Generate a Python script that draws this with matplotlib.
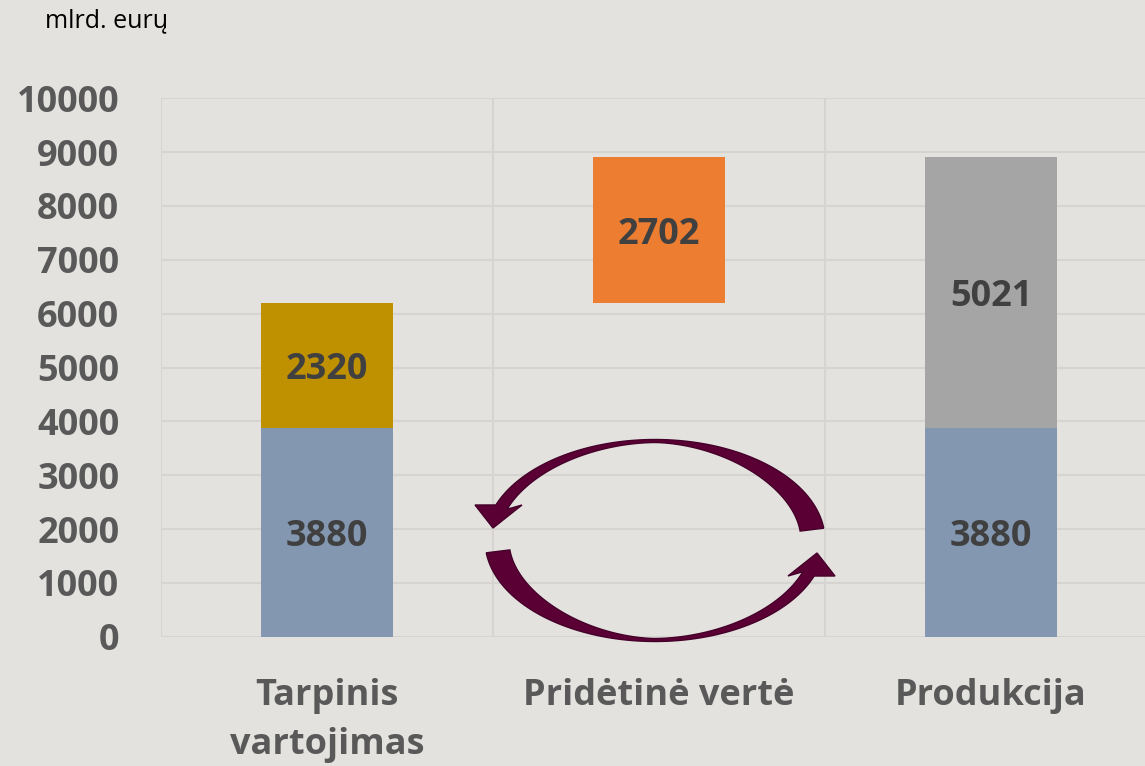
import matplotlib.pyplot as plt
import numpy as np
from matplotlib.patches import Polygon

plt.rcParams['font.family'] = ['Open Sans', 'DejaVu Sans']

# Data
categories = ['Tarpinis\nvartojimas', 'Pridėtinė vertė', 'Produkcija']
base_values = [3880, 0, 3880]
upper_values = [2320, 2702, 5021]
base_color = '#8497B0'
upper_colors = ['#BF9000', '#ED7D31', '#A5A5A5']
y_ticks = [0, 1000, 2000, 3000, 4000, 5000, 6000, 7000, 8000, 9000, 10000]
unit_label = 'mlrd. eurų'

# value added sits on top of intermediate consumption
upper_bottoms = [base_values[0], base_values[0] + upper_values[0], base_values[2]]

W, H = 1145, 766
bg = '#E3E2DE'
fig = plt.figure(figsize=(W / 100, H / 100), dpi=100, facecolor=bg)
ax = fig.add_axes([161 / W, 1 - 636.7 / H, 996 / W, (636.7 - 98.3) / H])
ax.set_facecolor(bg)

x = np.arange(len(categories))
bw = 0.4
ax.bar(x, base_values, width=bw, color=base_color, zorder=3)
ax.bar(x, upper_values, width=bw, bottom=upper_bottoms, color=upper_colors, zorder=3)

lab_kw = dict(ha='center', va='center_baseline', fontsize=26, fontweight='bold',
              color='#404040', zorder=4)
for i in range(len(categories)):
    if base_values[i]:
        ax.text(x[i], base_values[i] / 2, str(base_values[i]), **lab_kw)
    ax.text(x[i], upper_bottoms[i] + upper_values[i] / 2, str(upper_values[i]), **lab_kw)

ax.set_xlim(-0.5, 2.5)
ax.set_ylim(0, 10000)
ax.set_yticks(y_ticks)
ax.set_xticks(x)
ax.set_xticklabels(categories, linespacing=1.45)
ax.set_xticks([-0.5, 0.5, 1.5, 2.5], minor=True)
ax.tick_params(axis='y', length=0, pad=30, labelsize=26, labelcolor='#595959')
ax.tick_params(axis='x', which='both', length=0, pad=30, labelsize=26, labelcolor='#595959')
for t in ax.get_yticklabels() + ax.get_xticklabels():
    t.set_fontweight('bold')
ax.grid(axis='y', which='major', color='#D5D4D0', lw=1.5, zorder=0)
ax.grid(axis='x', which='minor', color='#D5D4D0', lw=1.5, zorder=0)
ax.grid(axis='x', which='major', visible=False)
for s in ax.spines.values():
    s.set_visible(False)

fig.text(45 / W, 1 - 21 / H, unit_label, fontsize=18, color='black', va='center', ha='left')

# circular flow arrows (decoration, in figure pixels)
cx, cy, a, b = 655, 540.5, 170, 101
th = np.radians(np.linspace(7, 159.4, 120))
t = 3 + 21 * np.clip(np.cos(th), 0, None) ** 1.5 + 10 * np.clip(-np.cos(th), 0, None) ** 1.5
outer = np.column_stack([cx + a * np.cos(th), cy - b * np.sin(th)])
inner = np.column_stack([cx + (a - t) * np.cos(th), cy - (b - t) * np.sin(th)])
head = np.array([[475, 505], [493, 528], [522, 505]])
top_arrow = np.vstack([outer, head, inner[::-1]])
bottom_arrow = np.column_stack([2 * cx - top_arrow[:, 0], 2 * cy - top_arrow[:, 1]])
for pts in (top_arrow, bottom_arrow):
    fp = np.column_stack([pts[:, 0] / W, 1 - pts[:, 1] / H])
    fig.patches.append(Polygon(fp, closed=True, transform=fig.transFigure,
                               facecolor='#5A0034', edgecolor='#45002A', lw=1, zorder=5))

fig.savefig('out.png', dpi=100, facecolor=bg)
